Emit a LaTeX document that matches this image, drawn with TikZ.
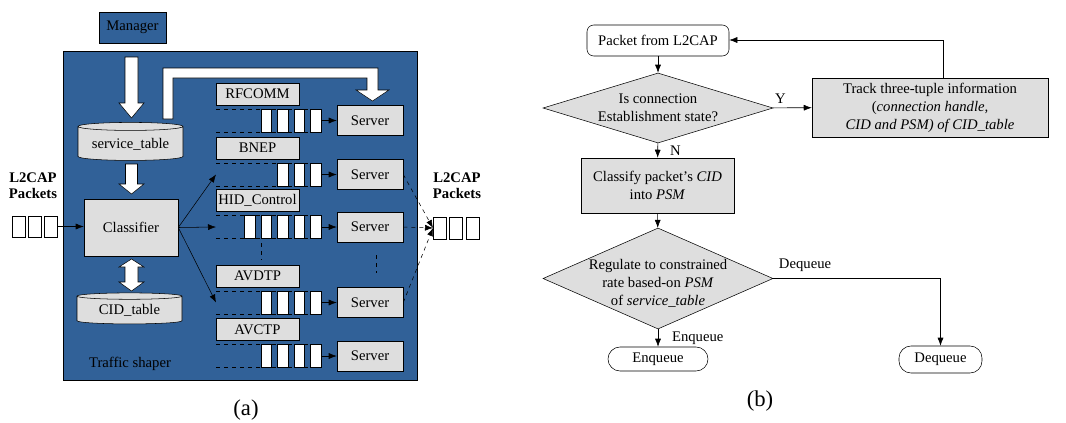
\documentclass[tikz,border=0pt]{standalone}
\usepackage{fontspec}
\setmainfont{Liberation Serif}
\usetikzlibrary{arrows.meta,shapes.geometric,calc}
\definecolor{shaperblue}{RGB}{49,97,152}
\definecolor{boxgray}{RGB}{222,222,222}
\begin{document}
\begin{tikzpicture}[x=0.75pt,y=-0.75pt,
		font=\fontsize{11}{13.5}\selectfont,
		>={Latex[length=6pt,width=4.5pt]},
		graybox/.style={draw,fill=boxgray,inner sep=1pt},
		protobox/.style={graybox,minimum width=62.25pt,minimum height=16.5pt},
		server/.style={graybox,minimum width=49.5pt,minimum height=22.5pt},
		dbase/.style={cylinder,shape border rotate=90,draw,fill=boxgray,aspect=0.1,minimum width=78.75pt,inner sep=1pt},
		fat/.style={draw,fill=white},
		cell/.style={draw,fill=white},
		pktlabel/.style={font=\fontsize{11}{12}\selectfont\bfseries,align=center},
		decision/.style={diamond,draw,fill=boxgray,inner sep=-5pt,align=center},
		process/.style={graybox,align=center},
		term/.style={draw,fill=white,rounded corners=9pt,minimum height=18pt},
		caption/.style={font=\fontsize{17}{20}\selectfont}]
			\useasboundingbox (0,0) rectangle (1066,422);
			% (a) traffic shaper
			\node[draw,fill=shaperblue,minimum width=50.25pt,minimum height=23.25pt] (mgr) at (132.5,27.5) {Manager};
			\draw[fill=shaperblue] (63,51) rectangle (417,380);
			\node (shaper) at (130,364) {Traffic shaper};
			\node[dbase,minimum height=28.5pt] (svc) at (130.5,144) {service\_table};
			\node[graybox,minimum width=70.5pt,minimum height=42.75pt] (cls) at (131,227.5) {Classifier};
			\node[dbase,minimum height=23.25pt] (cid) at (129.5,310.5) {CID\_table};
			\draw[fat] (125,57) -- (138,57) -- (138,103) -- (144,103) -- (131.5,118) -- (119,103) -- (125,103) -- cycle;
			\draw[fat] (125.5,164) -- (137.5,164) -- (137.5,184) -- (144,184) -- (131.5,194) -- (119,184) -- (125.5,184) -- cycle;
			\draw[fat] (131.5,259) -- (144,267) -- (138,267) -- (138,282) -- (144,282) -- (131.5,291) -- (119,282) -- (125,282) -- (125,267) -- (119,267) -- cycle;
			\draw[fat] (163,119) -- (163,68) -- (378,68) -- (378,90) -- (389,90) -- (372.5,101) -- (356,90) -- (367,90) -- (367,78) -- (173,78) -- (173,119) -- cycle;
			\foreach \name/\q/\n [count=\i] in {RFCOMM/120.5/4,BNEP/174.5/3,HID\_Control/227/5,AVDTP/302.5/4,AVCTP/356/4} {
				\node[protobox] (p\i) at (257.5,\q-26.5) {\name};
				\draw[dashed] (216,\q-11.5) -- (321,\q-11.5) (216,\q+11.5) -- (321,\q+11.5);
				\foreach \k in {1,...,\n}
					\draw[cell] (321-16.5*\k+6,\q-11.5) rectangle ++(10.5,23);
				\coordinate (qin\i) at (216,\q);
				\coordinate (qout\i) at (321,\q);
				\node[server] (s\i) at (370,\q) {Server};
				\draw[->] (qout\i) -- (s\i);
			}
			\draw[dashed] (261,243) -- (261,260);
			\draw[dashed] (376,255) -- (376,273);
			\foreach \i in {2,3,4}
				\draw[->] (cls.east) -- (qin\i);
			\node[pktlabel] (inlbl) at (33,186) {L2CAP\\Packets};
			\foreach \k in {0,1,2}
				\draw[cell] (12+16*\k,216) rectangle ++(13,21);
			\coordinate (inp) at (57,226.5);
			\draw[->] (inp) -- (inp -| cls.west);
			\node[pktlabel] (outlbl) at (457,186) {L2CAP\\Packets};
			\foreach \k in {0,1,2}
				\draw[cell] (433+16.5*\k,217) rectangle ++(13,22);
			\coordinate (outp) at (433,228);
			\foreach \i in {2,3,4}
				\draw[->,dashed] (s\i.east) -- (outp);
			\node[caption] (capa) at (246,410) {(a)};
			% (b) flow chart
			\node[draw,fill=white,rounded corners=5pt,minimum width=106.5pt,minimum height=23.25pt] (start) at (658,40.5) {Packet from L2CAP};
			\node[decision,aspect=3.3,minimum width=172.5pt,minimum height=52.5pt] (conn) at (658,108) {Is connection\\Establishment state?};
			\node[process,minimum width=177pt,minimum height=44.25pt] (track) at (930,107.5) {Track three-tuple information\\(\textit{connection handle,}\\\textit{CID and PSM) of CID\_table}};
			\node[process,minimum width=114.75pt,minimum height=41.25pt] (classify) at (657.5,185.5) {Classify packet's \textit{CID}\\into \textit{PSM}};
			\node[decision,aspect=2.28,minimum width=172.5pt,minimum height=75.75pt,
				label={[align=center,yshift=-3.4pt]center:Regulate to constrained\\rate based-on \textit{PSM}\\of \textit{service\_table}}] (reg) at (658,278.5) {};
			\node[term,minimum width=75pt] (enq) at (658,359) {Enqueue};
			\node[term,minimum width=62.25pt,minimum height=20.25pt] (deq) at (940.5,359.5) {Dequeue};
			\coordinate (back) at (943,40);
			\draw[->] (start) -- (conn);
			\draw[->] (conn) -- node[pos=0.2,above] {Y} (track);
			\draw[->] (track.north -| back) -- (back) -- (back -| start.east);
			\draw[->] (conn) -- node[right=5.7pt] {N} (classify);
			\draw[->] (classify) -- (reg);
			\draw[->] (reg) -- node[right=7pt] {Enqueue} (enq);
			\draw[->] (reg.east) -| node[pos=0.095,above=1.5pt] {Dequeue} (deq);
			\node[caption] (capb) at (760,401) {(b)};
\end{tikzpicture}
\end{document}
